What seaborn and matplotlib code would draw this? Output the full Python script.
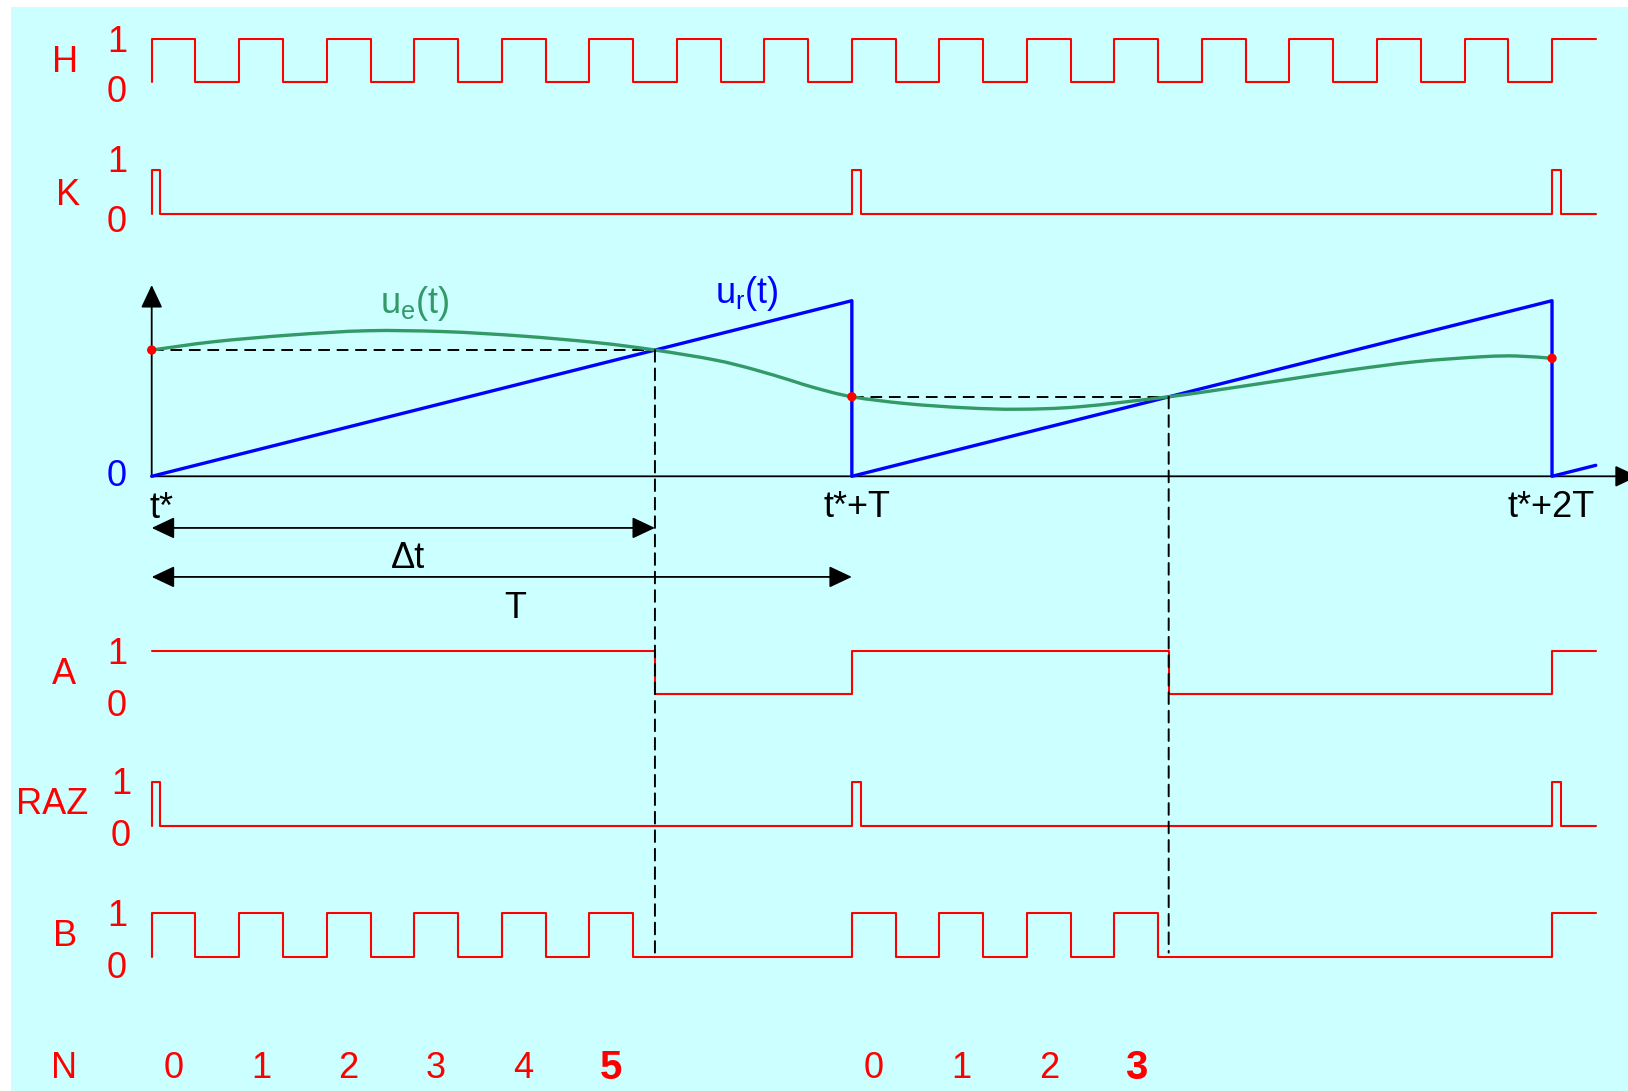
import matplotlib
matplotlib.use("Agg")
import matplotlib.pyplot as plt
import seaborn as sns
from matplotlib.patches import Rectangle, ConnectionPatch, PathPatch
from matplotlib.path import Path

# ---------------------------------------------------------------- data
# time is counted in clock periods from t*; one conversion lasts T = 8 periods
T_CLOCKS = 8
END_T = 16.5
SLOT = 0.5  # half clock period

# clock H and gated clock B, one level per half period (t = 0 .. 16.5)
H_LEVELS = "101010101010101010101010101010101"
B_LEVELS = "101010101010000010101010000000001"

# K and RAZ: short pulses at t*, t*+T, t*+2T
PULSE_TIMES = [0, 8, 16]
PULSE_WIDTH = 0.1

# comparator output A
A_EDGES = [0, 5.75, 8, 11.62, 16, 16.5]
A_LEVELS = [1, 0, 1, 0, 1]

# ramp u_r(t) (relative to its peak value)
RAMP_T = [0, 8, 8, 16, 16, 16.5]
RAMP_V = [0, 1, 0, 1, 0, 0.0625]

# input signal u_e(t)
UE_T = [0, 0.72, 1.60, 2.47, 3.34, 4.22, 5.09, 5.75, 6.43, 6.87, 7.31, 7.57,
        8.0, 8.62, 9.30, 9.90, 10.60, 11.62, 12.17, 12.93, 13.69, 14.45,
        15.21, 15.6, 16.0]
UE_V = [0.719, 0.767, 0.805, 0.829, 0.824, 0.799, 0.761, 0.719, 0.663, 0.610,
        0.545, 0.505, 0.453, 0.414, 0.390, 0.382, 0.396, 0.453, 0.491, 0.548,
        0.605, 0.653, 0.681, 0.685, 0.672]

# sampled values at the start of each conversion
SAMPLE_T = [0, 8, 16]
SAMPLE_V = [0.719, 0.453, 0.672]

# intersections of u_e and u_r
CROSS_T = [5.75, 11.62]
CROSS_V = [0.719, 0.453]

# counter values N shown under each counted pulse of B
N_FIRST = ["0", "1", "2", "3", "4", "5"]
N_SECOND = ["0", "1", "2", "3"]
N_FIRST_T = [0, 1, 2, 3, 4, 5]
N_SECOND_T = [8, 9, 10, 11]

# ---------------------------------------------------------------- style
RED = "#FF0000"
BLUE = "#0000FF"
GREEN = "#339966"
BG = "#CCFFFF"

sns.set_theme(style="white")
plt.rcParams["font.family"] = ["Liberation Sans", "DejaVu Sans"]
plt.rcParams["mathtext.fontset"] = "custom"
plt.rcParams["mathtext.rm"] = "Liberation Sans"
plt.rcParams["mathtext.it"] = "Liberation Sans:italic"

W, H = 1628, 1091
T0_PX, UNIT_PX = 151.7, 87.52
XLIM = (-T0_PX / UNIT_PX, (W - T0_PX) / UNIT_PX)
FS = 26

fig = plt.figure(figsize=(W / 100, H / 100), dpi=100)
fig.patch.set_facecolor("white")
fig.add_artist(Rectangle((11 / W, 0), 1, 1 - 7 / H, transform=fig.transFigure,
                         facecolor=BG, edgecolor="none", zorder=-10))


def band(top_px, bottom_px):
    ax = fig.add_axes([0, 1 - bottom_px / H, 1, (bottom_px - top_px) / H])
    ax.patch.set_alpha(0)
    return ax


def finish(ax, ylim=(0, 1)):
    ax.set_xlim(XLIM)
    ax.set_ylim(ylim)
    ax.axis("off")


def line(ax, x, y, color, lw, **kw):
    sns.lineplot(x=x, y=y, ax=ax, sort=False, estimator=None, color=color,
                 linewidth=lw, legend=False, clip_on=False, **kw)


def smooth_path(xs, ys):
    """Cubic Bezier path passing through every given point (Catmull-Rom)."""
    pts = list(zip(xs, ys))
    verts, codes = [pts[0]], [Path.MOVETO]
    n = len(pts)
    for i in range(n - 1):
        p0 = pts[max(i - 1, 0)]
        p1, p2 = pts[i], pts[i + 1]
        p3 = pts[min(i + 2, n - 1)]
        c1 = (p1[0] + (p2[0] - p0[0]) / 6, p1[1] + (p2[1] - p0[1]) / 6)
        c2 = (p2[0] - (p3[0] - p1[0]) / 6, p2[1] - (p3[1] - p1[1]) / 6)
        verts += [c1, c2, p2]
        codes += [Path.CURVE4] * 3
    return Path(verts, codes)


def steps(edges, levels, start_low=True):
    xs, ys = [], []
    if start_low:
        xs.append(edges[0]); ys.append(0)
    for i, lv in enumerate(levels):
        xs += [edges[i], edges[i + 1]]
        ys += [lv, lv]
    return xs, ys


def slot_signal(levels):
    edges = [i * SLOT for i in range(len(levels) + 1)]
    return steps(edges, [int(c) for c in levels])


def pulse_signal(times, width, end):
    edges, levels = [], []
    for t in times:
        edges += [t, t + width]
        levels += [1, 0]
    edges.append(end)
    return steps(edges, levels)


def ftext(x, y, s, color=RED, size=FS, **kw):
    kw.setdefault("ha", "center")
    kw.setdefault("va", "center")
    fig.text(x / W, 1 - y / H, s, color=color, fontsize=size, **kw)


# ---------------------------------------------------------------- digital rows
ax_h = band(39, 82)
line(ax_h, *slot_signal(H_LEVELS), RED, 1.5)
finish(ax_h)

ax_k = band(170, 213.5)
line(ax_k, *pulse_signal(PULSE_TIMES, PULSE_WIDTH, END_T), RED, 1.5)
finish(ax_k)

ax_a = band(651, 694)
line(ax_a, *steps(A_EDGES, A_LEVELS, start_low=False), RED, 1.5)
finish(ax_a)

ax_raz = band(782, 826)
line(ax_raz, *pulse_signal(PULSE_TIMES, PULSE_WIDTH, END_T), RED, 1.5)
finish(ax_raz)

ax_b = band(913, 957)
line(ax_b, *slot_signal(B_LEVELS), RED, 1.5)
finish(ax_b)

# ---------------------------------------------------------------- analog part
ax_u = band(300.7, 476.3)
line(ax_u, RAMP_T, RAMP_V, BLUE, 2.4, zorder=4)
ax_u.add_patch(PathPatch(smooth_path(UE_T, UE_V), facecolor="none",
                         edgecolor=GREEN, lw=2.4, zorder=5, clip_on=False))
sns.scatterplot(x=SAMPLE_T, y=SAMPLE_V, ax=ax_u, color=RED, s=45,
                edgecolor="none", zorder=6, clip_on=False, legend=False)

dash = (0, (6, 3.5))
for t0, tc, v in zip(SAMPLE_T[:2], CROSS_T, CROSS_V):
    ax_u.plot([t0, tc], [v, v], color="black", lw=1.4, ls=dash, zorder=3,
              clip_on=False)
    fig.add_artist(ConnectionPatch(xyA=(tc, v), coordsA=ax_u.transData,
                                   xyB=(tc, 0.1), coordsB=ax_b.transData,
                                   color="black", lw=1.4, ls=dash, zorder=3))

arrow = dict(arrowstyle="-|>,head_length=0.7,head_width=0.33", color="black",
             lw=1.3, shrinkA=0, shrinkB=0, mutation_scale=20)
ax_u.annotate("", xy=(0, 1.089), xytext=(0, 0), arrowprops=arrow,
              annotation_clip=False, zorder=2)
ax_u.annotate("", xy=(16.98, 0), xytext=(0, 0), arrowprops=arrow,
              annotation_clip=False, zorder=2)

both = dict(arrow, arrowstyle="<|-|>,head_length=0.7,head_width=0.33")
ax_u.annotate("", xy=(CROSS_T[0], -0.294), xytext=(0, -0.294),
              arrowprops=both, annotation_clip=False)
ax_u.annotate("", xy=(T_CLOCKS, -0.573), xytext=(0, -0.573),
              arrowprops=both, annotation_clip=False)
finish(ax_u)

# ---------------------------------------------------------------- labels
for name, x, y, y1, y0, xd in [("H", 65, 63, 43, 93, 117),
                               ("K", 68, 195, 162, 223, 117),
                               ("A", 64, 675, 655, 706, 117),
                               ("RAZ", 52, 805, 785, 837, 121),
                               ("B", 65, 937, 916, 968, 117)]:
    ftext(x, y, name)
    ftext(xd, y1, "1")
    ftext(xd, y0, "0")
ftext(64, 1068, "N")
ftext(117, 477, "0", color=BLUE)

ftext(162, 509, "t*", color="black")
ftext(857, 508, "t*+T", color="black")
ftext(1551, 508, "t*+2T", color="black")
ftext(408, 558, "\u0394t", color="black")
ftext(515, 608, "T", color="black")

ftext(415, 313, r"$\mathrm{u_e(t)}$", color=GREEN, size=26, va="baseline")
ftext(747, 303, r"$\mathrm{u_r(t)}$", color=BLUE, size=26, va="baseline")

for labels, starts in [(N_FIRST, N_FIRST_T), (N_SECOND, N_SECOND_T)]:
    last = len(labels) - 1
    for i, (s, t) in enumerate(zip(labels, starts)):
        xpx = T0_PX + (t + SLOT / 2) * UNIT_PX
        if i == last:
            ftext(xpx, 1068, s, size=29, fontweight="bold")
        else:
            ftext(xpx, 1068, s)

fig.savefig("out.png", dpi=100, facecolor=fig.get_facecolor())
